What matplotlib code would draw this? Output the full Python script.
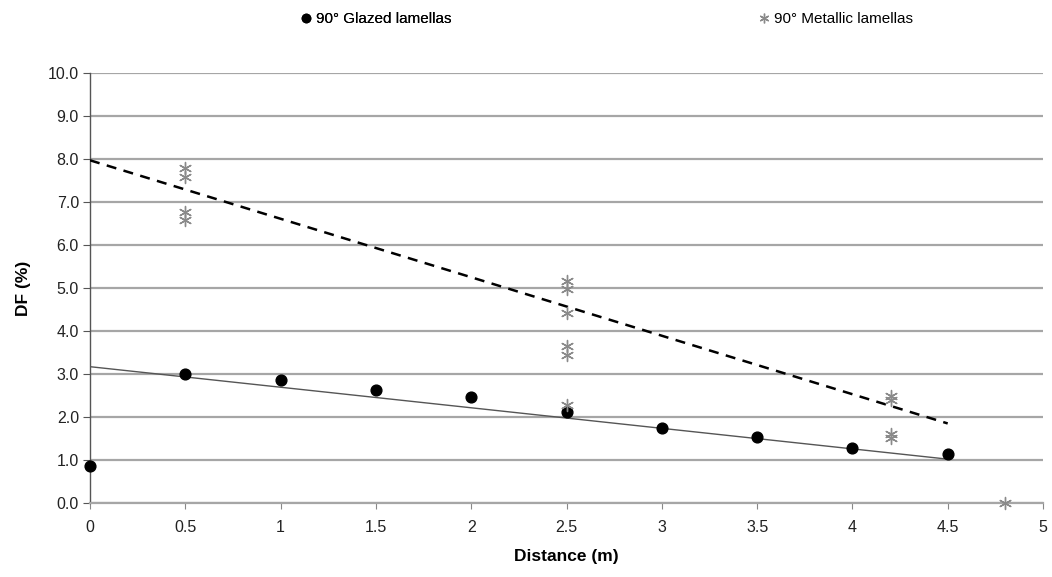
import matplotlib
matplotlib.use("Agg")
import matplotlib.pyplot as plt
from matplotlib.lines import Line2D

plt.rcParams['font.family'] = ['Liberation Sans', 'DejaVu Sans']

# Data
glazed_x = [0, 0.5, 1, 1.5, 2, 2.5, 3, 3.5, 4, 4.5]
glazed_y = [0.86, 2.99, 2.86, 2.63, 2.47, 2.11, 1.74, 1.53, 1.28, 1.14]

metallic_x = [0.5, 0.5, 0.5, 0.5, 2.5, 2.5, 2.5, 2.5, 2.5, 2.5, 4.2, 4.2, 4.2, 4.2, 4.8]
metallic_y = [7.79, 7.58, 6.77, 6.58, 5.16, 4.98, 4.42, 3.65, 3.44, 2.28, 2.49, 2.40, 1.60, 1.51, 0.0]

glazed_trend_x = [0, 4.5]
glazed_trend_y = [3.17, 1.02]
metallic_trend_x = [0, 4.5]
metallic_trend_y = [7.97, 1.85]

x_ticks = [0, 0.5, 1, 1.5, 2, 2.5, 3, 3.5, 4, 4.5, 5]
x_ticklabels = ['0', '0.5', '1', '1.5', '2', '2.5', '3', '3.5', '4', '4.5', '5']
y_ticks = [0, 1, 2, 3, 4, 5, 6, 7, 8, 9, 10]

fig = plt.figure(figsize=(10.52, 5.77), dpi=100)
ax = fig.add_axes([90/1052, 1 - 503/577, (1043 - 90)/1052, (503 - 73)/577])

ax.set_xlim(0, 5)
ax.set_ylim(0, 10)
ax.set_yticks(y_ticks)
ax.set_yticklabels([f'{v:.1f}' for v in y_ticks])
ax.set_xticks(x_ticks)
ax.set_xticklabels(x_ticklabels)

ax.grid(axis='y', color='#a6a6a6', linewidth=1.6, zorder=0)
ax.set_axisbelow(True)
for s in ['top', 'right']:
    ax.spines[s].set_visible(False)
ax.spines['left'].set_color('#555555')
ax.spines['left'].set_linewidth(1.0)
ax.spines['bottom'].set_color('#a6a6a6')
ax.spines['bottom'].set_linewidth(1.6)
ax.tick_params(axis='y', direction='out', length=5, color='#555555', labelsize=11.5,
               pad=3, labelcolor='#222222')
ax.tick_params(axis='x', direction='out', length=4, color='#888888', labelsize=11.5,
               pad=8, labelcolor='#222222')

# trend lines
ax.plot(glazed_trend_x, glazed_trend_y, color='#555555', linewidth=1.0, zorder=3)
ax.plot(metallic_trend_x, metallic_trend_y, color='black', linewidth=1.8,
        linestyle=(0, (4, 3)), zorder=3)

# points
ax.scatter(glazed_x, glazed_y, s=60, color='black', zorder=4, clip_on=False)
star = (6, 2, 0)
ax.scatter(metallic_x, metallic_y, s=75, marker=star, color='#8a8a8a',
           linewidths=1.0, zorder=5, clip_on=False)

ax.set_xlabel('Distance (m)', fontsize=12.5, fontweight='bold', labelpad=10)
ax.set_ylabel('DF (%)', fontsize=12.5, fontweight='bold', labelpad=12)

h_glazed = Line2D([], [], marker='o', color='black', linestyle='none', markersize=6)
h_metal = Line2D([], [], marker=star, color='#8a8a8a', linestyle='none', markersize=7,
                 markeredgewidth=1.0)
leg_kw = dict(loc='center left', frameon=False, fontsize=11, handletextpad=0.2,
              handlelength=1.0, borderpad=0, borderaxespad=0)
leg1 = fig.legend([h_glazed], ['90° Glazed lamellas'],
                  bbox_to_anchor=(298/1052, 1 - 19/577), **leg_kw)
fig.add_artist(leg1)
fig.legend([h_metal], ['90° Metallic lamellas'],
           bbox_to_anchor=(756/1052, 1 - 19/577), **leg_kw)

fig.savefig('out.png', dpi=100)
